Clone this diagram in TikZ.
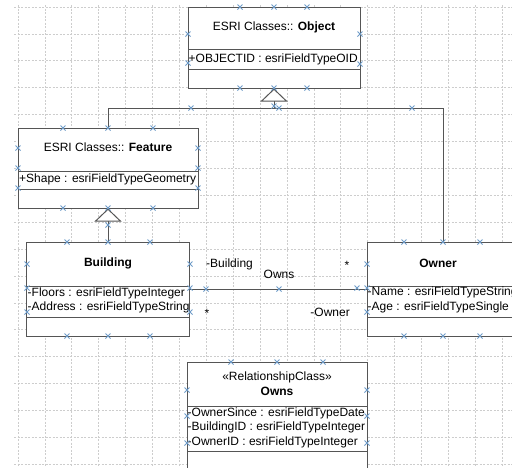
\documentclass[tikz,border=0pt]{standalone}
\usepackage{fontspec}
\setmainfont{Liberation Sans}
\usepackage{tikz}
\usetikzlibrary{arrows.meta}

\definecolor{gridgray}{RGB}{205,205,205}
\definecolor{boxline}{RGB}{85,85,85}
\definecolor{handleblue}{RGB}{110,155,200}

\tikzset{
  cls/.style={draw=boxline, fill=white, line width=1pt, inner sep=0pt},
  txt/.style={inner sep=0pt, font=\fontsize{12}{14}\selectfont},
  attr/.style={txt, anchor=west},
  conn/.style={draw=boxline, line width=1pt},
  gen/.style={conn, -{Triangle[fill=white, length=13pt, width=27pt]}},
  gridline/.style={draw=gridgray, line width=0.8pt, dash pattern=on 2pt off 1.5pt},
  hdl/.pic={\draw[handleblue, line width=0.9pt] (-2.5,-2.5) -- (2.5,2.5) (-2.5,2.5) -- (2.5,-2.5);}
}

\begin{document}
\begin{tikzpicture}[x=1pt, y=-1pt]
\useasboundingbox (0,0) rectangle (512,467);
\clip (0,0) rectangle (512,467);

% Grid
\foreach \k in {0,...,18} \draw[gridline] (18+26.9*\k,5) -- (18+26.9*\k,467);
\foreach \k in {0,...,17} \draw[gridline] (14,7+26.9*\k) -- (512,7+26.9*\k);

% Classes
\node[cls, minimum width=172pt, minimum height=81pt] (object) at (274,47.5) {};
\node[cls, minimum width=180pt, minimum height=80pt] (feature) at (108,168) {};
\node[cls, minimum width=163pt, minimum height=94pt] (building) at (108,289) {};
\node[cls, minimum width=152pt, minimum height=94pt] (owner) at (443,289) {};
\node[cls, minimum width=180pt, minimum height=118pt] (owns) at (277,421) {};

% Compartments
\draw[conn] (188,49) -- (360,49);
\draw[conn] (188,69) -- (360,69);
\draw[conn] (18,171) -- (198,171);
\draw[conn] (18,189) -- (198,189);
\draw[conn] (26.5,286) -- (189.5,286);
\draw[conn] (26.5,317) -- (189.5,317);
\draw[conn] (367,286) -- (519,286);
\draw[conn] (367,317) -- (519,317);
\draw[conn] (187,406) -- (367,406);
\draw[conn] (187,451) -- (367,451);

% Texts
\node[txt] (objTitle) at (274,27) {ESRI Classes:: \textbf{Object}};
\node[attr] (objAttr) at (188.5,59) {+OBJECTID : esriFieldTypeOID};
\node[txt] (featTitle) at (108,147) {ESRI Classes:: \textbf{Feature}};
\node[attr] (featAttr) at (19,179) {+Shape : esriFieldTypeGeometry};
\node[txt] (bldTitle) at (108,263) {\textbf{Building}};
\node[attr] (bldFloors) at (27.5,293) {-Floors : esriFieldTypeInteger};
\node[attr] (bldAddress) at (27.5,307.5) {-Address : esriFieldTypeString};
\node[txt] (ownTitle) at (438,263) {\textbf{Owner}};
\node[attr] (ownName) at (367.5,292) {-Name : esriFieldTypeString};
\node[attr] (ownAge) at (367.5,307.5) {-Age : esriFieldTypeSingle};
\node[txt] (relStereo) at (277,377) {«RelationshipClass»};
\node[txt] (relTitle) at (277,391) {\textbf{Owns}};
\node[attr] (relSince) at (187.5,413) {-OwnerSince : esriFieldTypeDate};
\node[attr] (relBldID) at (187.5,427.5) {-BuildingID : esriFieldTypeInteger};
\node[attr] (relOwnID) at (187.5,442) {-OwnerID : esriFieldTypeInteger};

% Generalization
\coordinate (gen) at (274,108);
\draw[conn] (feature.north) -- (feature.north |- gen) -- (owner.north |- gen) -- (owner.north);
\draw[gen] (gen) -- (object.south);
\draw[gen] (building.north) -- (feature.south);

% Association
\draw[conn] (building.east) -- (owner.west);
\node[txt, anchor=west] (roleBld) at (206,264) {-Building};
\node[txt] (assocName) at (279,274) {Owns};
\node[txt] (multBld) at (207,313) {*};
\node[txt] (multOwn) at (347,265) {*};
\node[txt, anchor=east] (roleOwn) at (350,312) {-Owner};

% Handles
\foreach \x/\y in {240/7, 274/7, 307/7, 188/34, 188/63, 360/34, 360/64, 240/88, 274/88, 307/88,
  191/108, 274/106, 279/108, 412/108,
  63/128, 108/128, 153/128, 18/148, 18/168, 18/188, 198/148, 198/168, 198/188, 63/208, 108/208, 153/208, 108/225,
  67/242, 108/242, 150/242, 27/264, 27/288, 27/312, 190/264, 190/288, 190/312, 67/336, 108/336, 150/336, 206/289,
  404/242, 443/242, 480/242, 367/264, 367/288, 367/312, 357/288, 279/289, 404/336, 443/336, 480/336,
  231/362, 277/362, 323/362, 187/390, 187/416, 187/443, 367/390, 367/416, 367/443}
  \pic at (\x,\y) {hdl};
\end{tikzpicture}
\end{document}
